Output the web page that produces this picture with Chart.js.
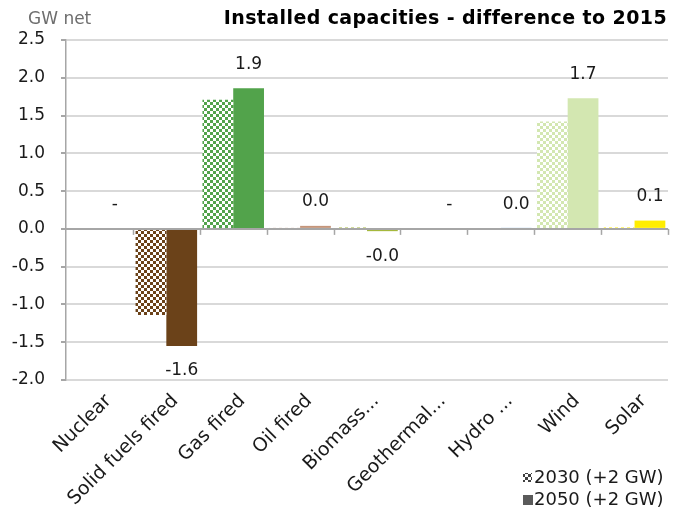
<!DOCTYPE html>
<html>
<head>
<meta charset="utf-8">
<script src="https://cdn.jsdelivr.net/npm/chart.js@4/dist/chart.umd.min.js"></script>
<style>
html,body{margin:0;padding:0;background:#fff;}
#wrap{width:681px;height:512px;position:relative;}
</style>
</head>
<body>
<div id="wrap"><canvas id="c" width="681" height="512"></canvas></div>
<script>
const categories = ["Nuclear","Solid fuels fired","Gas fired","Oil fired","Biomass...","Geothermal...","Hydro ...","Wind","Solar"];
const values2030 = [0, -1.14, 1.71, 0.01, 0.02, 0, 0, 1.42, 0.02];
const values2050 = [0, -1.55, 1.86, 0.04, -0.03, 0, 0.003, 1.73, 0.11];
const seriesNames = ["2030 (+2 GW)", "2050 (+2 GW)"];
const categoryColors = ["#7f7f7f","#6b4219","#52a34b","#c4957a","#a5b83c","#8c8c8c","#5b9bd5","#d3e7b1","#ffed00"];
const yTicks = [2.5,2.0,1.5,1.0,0.5,0.0,-0.5,-1.0,-1.5,-2.0];
const titleText = "Installed capacities - difference to 2015";
const unitText = "GW net";

const FONT = "'DejaVu Sans', sans-serif";

function makePattern(color){
  const cv = document.createElement('canvas');
  cv.width = 6; cv.height = 6;
  const g = cv.getContext('2d');
  g.fillStyle = '#ffffff'; g.fillRect(0,0,6,6);
  g.fillStyle = color;
  g.fillRect(0,0,3,3); g.fillRect(3,3,3,3);
  return g.createPattern(cv,'repeat');
}

const fmt = v => v === 0 ? "-" : v.toFixed(1);

const extras = {
  id:'extras',
  afterDatasetsDraw(chart){
    const {ctx, chartArea, scales} = chart;
    const x = scales.x, y = scales.y;
    const y0 = y.getPixelForValue(0);
    ctx.save();
    ctx.strokeStyle = '#a6a6a6'; ctx.lineWidth = 2;
    ctx.beginPath(); ctx.moveTo(chartArea.left, y0); ctx.lineTo(chartArea.right, y0); ctx.stroke();
    ctx.lineWidth = 1.5;
    const n = categories.length;
    const step = (chartArea.right - chartArea.left)/n;
    for(let i=1;i<=n;i++){
      const px = Math.round(x.getPixelForValue(i-1) + step/2) + 0.5;
      ctx.beginPath(); ctx.moveTo(px, y0); ctx.lineTo(px, y0+6); ctx.stroke();
    }
    const meta = chart.getDatasetMeta(1);
    ctx.fillStyle = '#1a1a1a';
    ctx.font = "17px " + FONT;
    ctx.textAlign = 'center'; ctx.textBaseline = 'middle';
    meta.data.forEach((bar,i)=>{
      const v = values2050[i];
      const ly = v < 0 ? bar.y + 25 : bar.y - 24;
      ctx.fillText(fmt(v), bar.x, ly);
    });
    ctx.restore();
  },
  afterDraw(chart){
    const {ctx, chartArea} = chart;
    ctx.save();
    ctx.textBaseline = 'middle';
    ctx.fillStyle = '#000';
    ctx.font = "bold 19px " + FONT;
    ctx.letterSpacing = '0.4px';
    ctx.textAlign = 'right';
    ctx.fillText(titleText, chartArea.right - 1, 19);
    ctx.letterSpacing = '0px';
    ctx.font = "17px " + FONT;
    ctx.fillStyle = '#6e6e6e';
    ctx.textAlign = 'left';
    ctx.fillText(unitText, 28, 20);
    const lx = 523, ly = [478, 500];
    ctx.font = "18px " + FONT;
    ctx.fillStyle = makePattern('#404040');
    ctx.fillRect(lx, ly[0]-5, 9, 9);
    ctx.fillStyle = '#5a5a5a';
    ctx.fillRect(lx, ly[1]-5, 10, 10);
    ctx.fillStyle = '#1a1a1a';
    ctx.fillText(seriesNames[0], lx+11, ly[0]);
    ctx.fillText(seriesNames[1], lx+11, ly[1]);
    ctx.restore();
  }
};

new Chart(document.getElementById('c'), {
  type:'bar',
  data:{
    labels: categories,
    datasets:[
      {label: seriesNames[0], data: values2030, backgroundColor: categoryColors.map(makePattern), borderWidth:0},
      {label: seriesNames[1], data: values2050, backgroundColor: categoryColors, borderWidth:0}
    ]
  },
  options:{
    responsive:false,
    animation:false,
    devicePixelRatio:1,
    layout:{padding:{top:40,right:13,left:0,bottom:0}},
    datasets:{bar:{categoryPercentage:0.92, barPercentage:1.0}},
    plugins:{legend:{display:false}, title:{display:false}, tooltip:{enabled:false}},
    scales:{
      x:{
        grid:{display:false},
        border:{display:false},
        ticks:{minRotation:45, maxRotation:45, color:'#1a1a1a', font:{family:FONT, size:19}, padding:2, labelOffset:9, autoSkip:false},
        afterFit(s){ s.height = 132; }
      },
      y:{
        min:-2.0, max:2.5,
        afterBuildTicks(s){ s.ticks = yTicks.map(v=>({value:v})); },
        grid:{color:'#d9d9d9', lineWidth:2, tickColor:'#a6a6a6', tickLength:5, drawTicks:true},
        border:{display:true, color:'#a6a6a6', width:1.5},
        ticks:{color:'#1a1a1a', font:{family:FONT, size:17}, padding:16, callback:v=>v.toFixed(1)},
        afterFit(s){ s.width = 66; }
      }
    }
  },
  plugins:[extras]
});
</script>
</body>
</html>
